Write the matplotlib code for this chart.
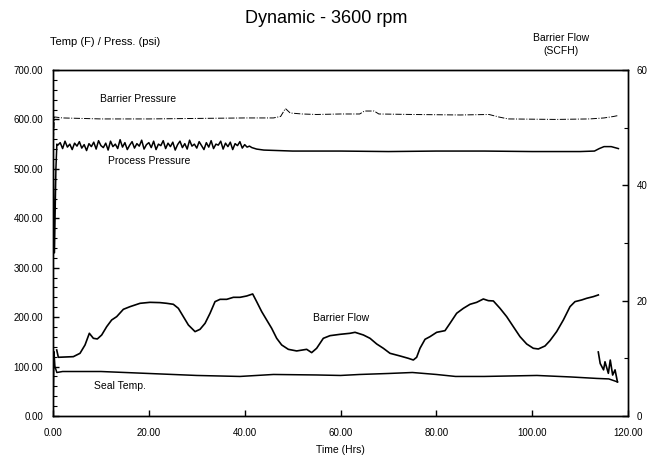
import numpy as np
import matplotlib
matplotlib.use("Agg")
import matplotlib.pyplot as plt
from matplotlib.ticker import MultipleLocator, FormatStrFormatter

plt.rcParams['font.family'] = ['Liberation Sans', 'DejaVu Sans']

# Barrier pressure (psi, left axis)
bp_t = [0, 0.3, 2, 10, 20, 30, 40, 46, 47.5, 48.5, 49.5, 52, 55, 60, 64, 65, 67, 68,
        75, 85, 91, 93, 95, 105, 112, 115, 117, 118]
bp_v = [540, 605, 603, 601, 601, 602, 603, 603, 606, 622, 613, 611, 610, 611, 611, 617,
        617, 611, 610, 609, 610, 605, 601, 600, 601, 603, 606, 608]

# Process pressure (psi, left axis)
pp_start_t = [0, 0.3, 0.6, 0.8]
pp_start_v = [545, 330, 500, 550]
pp_noise_t = np.arange(1.0, 41.5, 0.5)
pp_noise_v = [548, 553, 541, 556, 544, 550, 539, 552, 546, 555,
              542, 549, 537, 551, 545, 554, 540, 557, 547, 543,
              552, 538, 556, 545, 550, 541, 559, 544, 553, 539,
              548, 555, 542, 551, 546, 558, 540, 549, 553, 543,
              556, 539, 550, 547, 557, 541, 552, 545, 554, 538,
              549, 556, 543, 551, 540, 558, 546, 550, 542, 555,
              547, 539, 553, 544, 557, 541, 550, 548, 556, 540,
              552, 545, 554, 539, 551, 547, 555, 542, 549, 544,
              546]
pp_end_t = [41.5, 42.5, 44, 50, 60, 70, 80, 90, 100, 110, 113, 114, 115, 116.5, 118]
pp_end_v = [543, 540, 538, 536, 536, 535, 536, 536, 535, 535, 536, 541, 545, 545, 541]

# Seal temperature (F, left axis)
st_t = [0, 0.2, 0.4, 0.8, 2, 10, 20, 30, 39, 46, 55, 60, 64, 70, 75, 80, 84, 90,
        101, 108, 113.5, 116, 117.8]
st_v = [5, 130, 100, 88, 90, 90, 86, 82, 80, 84, 83, 82, 84, 86, 88, 84, 80, 80,
        82, 79, 76, 75, 69]

# Barrier flow (SCFH, right axis)
bf_t = [0.77, 1.11, 4.24, 5.63, 6.68, 7.58, 8.42, 9.25, 10.16, 11.20, 12.24, 13.29,
        14.68, 16.07, 18.16, 20.24, 22.33, 23.72, 25.11, 26.16, 27.20, 28.25, 29.64,
        30.68, 31.73, 32.77, 33.81, 34.86, 36.25, 37.64, 39.03, 40.42, 41.67, 42.50,
        43.55, 44.59, 45.63, 46.68, 47.72, 49.11, 50.85, 52.94, 53.98, 55.02, 56.41,
        57.81, 59.89, 61.98, 63.03, 64.77, 66.16, 67.55, 68.94, 70.33, 72.42, 74.16,
        75.20, 75.89, 76.59, 77.64, 78.68, 80.07, 81.81, 82.85, 84.24, 85.64, 87.03,
        88.42, 89.81, 90.85, 91.90, 93.29, 94.68, 96.07, 97.46, 98.85, 100.24, 101.29,
        102.68, 103.72, 105.11, 106.51, 107.90, 108.94, 110.33, 111.38, 112.77, 113.81,
        113.9, 113.8, 114.2, 114.9, 115.2, 115.9, 116.3, 116.8, 117.3, 117.8]
bf_v = [11.45, 10.18, 10.29, 10.87, 12.32, 14.34, 13.47, 13.36, 14.05, 15.49, 16.65,
        17.23, 18.50, 18.96, 19.54, 19.71, 19.66, 19.54, 19.37, 18.67, 17.23, 15.78,
        14.63, 15.03, 16.07, 17.81, 19.83, 20.23, 20.23, 20.58, 20.58, 20.81, 21.16,
        19.83, 18.10, 16.65, 15.21, 13.47, 12.32, 11.56, 11.28, 11.56, 10.99, 11.74,
        13.47, 13.93, 14.16, 14.34, 14.51, 14.05, 13.47, 12.49, 11.74, 10.87, 10.41,
        10.00, 9.71, 10.18, 11.74, 13.30, 13.76, 14.51, 14.80, 16.07, 17.81, 18.67,
        19.37, 19.71, 20.29, 20.00, 19.95, 18.67, 17.23, 15.49, 13.76, 12.49, 11.74,
        11.62, 12.14, 13.07, 14.63, 16.65, 18.96, 19.83, 20.12, 20.41, 20.70, 20.99,
        np.nan, 11.1, 9.1, 8.0, 9.4, 7.4, 9.7, 7.1, 8.0, 5.9]

fig = plt.figure(figsize=(6.53, 4.59), dpi=100)
ax = fig.add_axes([0.0812, 0.0937, 0.8805, 0.7538])
ax2 = ax.twinx()

ax.plot(bp_t, bp_v, color='black', lw=0.7, ls='-.')
ax.plot(pp_start_t + list(pp_noise_t) + pp_end_t, pp_start_v + pp_noise_v + pp_end_v,
        color='black', lw=1.1)
ax.plot(st_t, st_v, color='black', lw=1.1)
ax2.plot(bf_t, bf_v, color='black', lw=1.2)

ax.set_xlim(0, 120)
ax.set_ylim(0, 700)
ax2.set_ylim(0, 60)

ax.xaxis.set_major_locator(MultipleLocator(20))
ax.xaxis.set_major_formatter(FormatStrFormatter('%.2f'))
ax.yaxis.set_major_locator(MultipleLocator(100))
ax.yaxis.set_minor_locator(MultipleLocator(20))
ax.yaxis.set_major_formatter(FormatStrFormatter('%.2f'))
ax2.yaxis.set_major_locator(MultipleLocator(20))
ax2.yaxis.set_minor_locator(MultipleLocator(10))

for a in (ax, ax2):
    a.tick_params(direction='in', labelsize=7, length=4, width=1)
    a.tick_params(which='minor', direction='in', length=3, width=0.8)
    for s in a.spines.values():
        s.set_linewidth(1.0)
ax.tick_params(axis='x', pad=9)
ax.tick_params(axis='y', pad=7)
ax2.tick_params(axis='y', pad=6)

ax.text(9.8, 641, 'Barrier Pressure', fontsize=7.5, va='center')
ax.text(11.5, 516, 'Process Pressure', fontsize=7.5, va='center')
ax.text(54.3, 198, 'Barrier Flow', fontsize=7.5, va='center')
ax.text(8.6, 61, 'Seal Temp.', fontsize=7.5, va='center')

fig.text(0.5, 0.96, 'Dynamic - 3600 rpm', ha='center', va='center', fontsize=13)
fig.text(0.077, 0.908, 'Temp (F) / Press. (psi)', ha='left', va='center', fontsize=8)
fig.text(0.859, 0.903, 'Barrier Flow\n(SCFH)', ha='center', va='center', fontsize=7.5,
         linespacing=1.3)
ax.set_xlabel('Time (Hrs)', fontsize=7.5, labelpad=5)

fig.savefig('out.png', dpi=100)
